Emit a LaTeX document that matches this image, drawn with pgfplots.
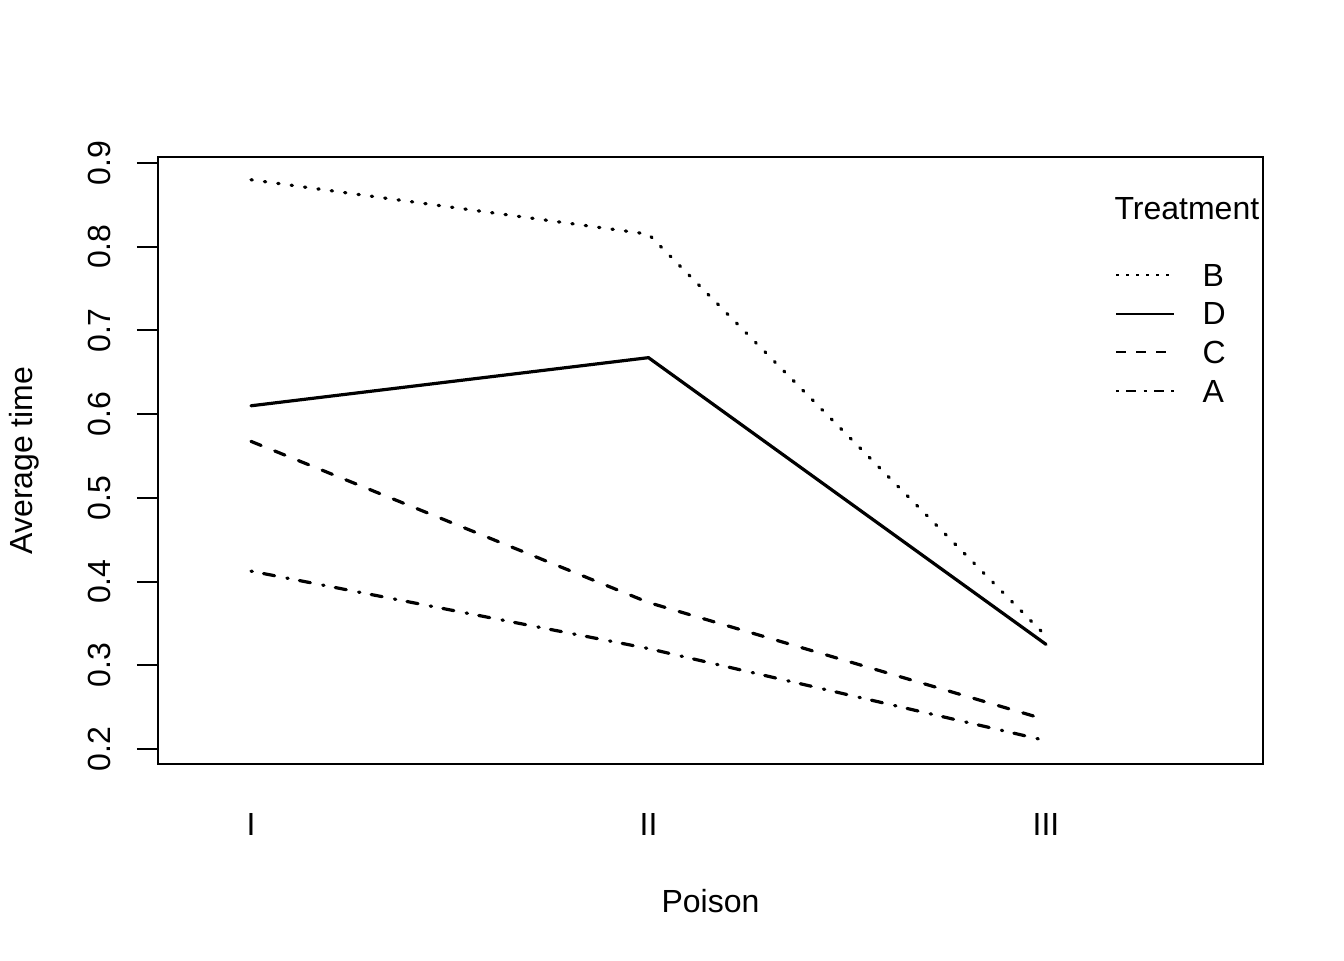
\documentclass[border=0pt]{standalone}
\usepackage{fontspec}
\setmainfont{Liberation Sans}
\usepackage{pgfplots}
\pgfplotsset{compat=1.18}

% Mean survival time for each poison (I, II, III) and treatment
\pgfplotstableread{
poison A B C D
1 0.4125 0.880 0.5675 0.6100
2 0.3200 0.815 0.3750 0.6675
3 0.2100 0.335 0.2350 0.3250
}\meantimes

\tikzset{
  lty dotted/.style={line width=1.2pt, line cap=round, dash pattern=on 0.5pt off 4.56pt},
  lty solid/.style={line width=1.2pt, line cap=round},
  lty dashed/.style={line width=1.2pt, line cap=round, dash pattern=on 4.1pt off 5.5pt},
  lty dotdash/.style={line width=1.2pt, line cap=round, dash pattern=on 0.5pt off 4.3pt on 4.2pt off 4.7pt},
}

\begin{document}
\begin{tikzpicture}[font=\fontsize{12}{14.4}\selectfont]
\begin{axis}[
  at={(59.25pt,73.5pt)}, anchor=south west,
  width=414.375pt, height=227.625pt, scale only axis,
  xmin=0.76604, xmax=3.5459,
  ymin=0.18208, ymax=0.90717,
  axis line style={line width=0.75pt},
  xtick={1,2,3}, xticklabels={I,II,III},
  xtick style={draw=none},
  xticklabel style={anchor=north, inner sep=0pt},
  xticklabel shift=10.5pt,
  ytick={0.2,0.3,0.4,0.5,0.6,0.7,0.8,0.9},
  yticklabels={0.2,0.3,0.4,0.5,0.6,0.7,0.8,0.9},
  ytick pos=left,
  tick align=outside,
  major tick length=7.875pt,
  ytick style={line width=0.75pt, black},
  yticklabel style={rotate=90, anchor=south, inner sep=0pt},
  yticklabel shift=9.75pt,
  xlabel={Poison},
  ylabel={Average time},
  every axis x label/.style={at={([yshift=-55.5pt]axis description cs:0.5,0)}, anchor=base},
  every axis y label/.style={at={([xshift=-46.875pt]axis description cs:0,0.5)}, rotate=90, anchor=base},
  legend image code/.code={\draw[#1] (0pt,0pt) -- (21.75pt,0pt);},
  legend cell align=left,
  legend style={draw=none, fill=none, inner sep=0pt, outer sep=0pt,
    at={(axis cs:3.1736,0.78043)}, anchor=north west,
    row sep=6pt,
    nodes={inner sep=0pt, text height=8.6pt, text depth=0pt},
    /tikz/every odd column/.append style={column sep=10.4pt}},
]
\addlegendimage{line width=0.75pt, line cap=butt, dash pattern=on 1.2pt off 2.55pt}
\addlegendimage{line width=0.75pt, line cap=butt}
\addlegendimage{line width=0.75pt, line cap=butt, dash pattern=on 3.75pt off 3.75pt}
\addlegendimage{line width=0.75pt, line cap=butt, dash pattern=on 1.2pt off 2.7pt on 3.75pt off 2.7pt}
\legend{B,D,C,A}

\addplot[lty dotted, forget plot] table[x=poison, y=B] {\meantimes};
\addplot[lty solid, forget plot] table[x=poison, y=D] {\meantimes};
\addplot[lty dashed, forget plot] table[x=poison, y=C] {\meantimes};
\addplot[lty dotdash, forget plot] table[x=poison, y=A] {\meantimes};

\node[anchor=base west, inner sep=0pt] at (axis cs:3.1711,0.8331) {Treatment};
\end{axis}
\pgfresetboundingbox
\useasboundingbox (0,0) rectangle (504pt,360pt);
\end{tikzpicture}
\end{document}
